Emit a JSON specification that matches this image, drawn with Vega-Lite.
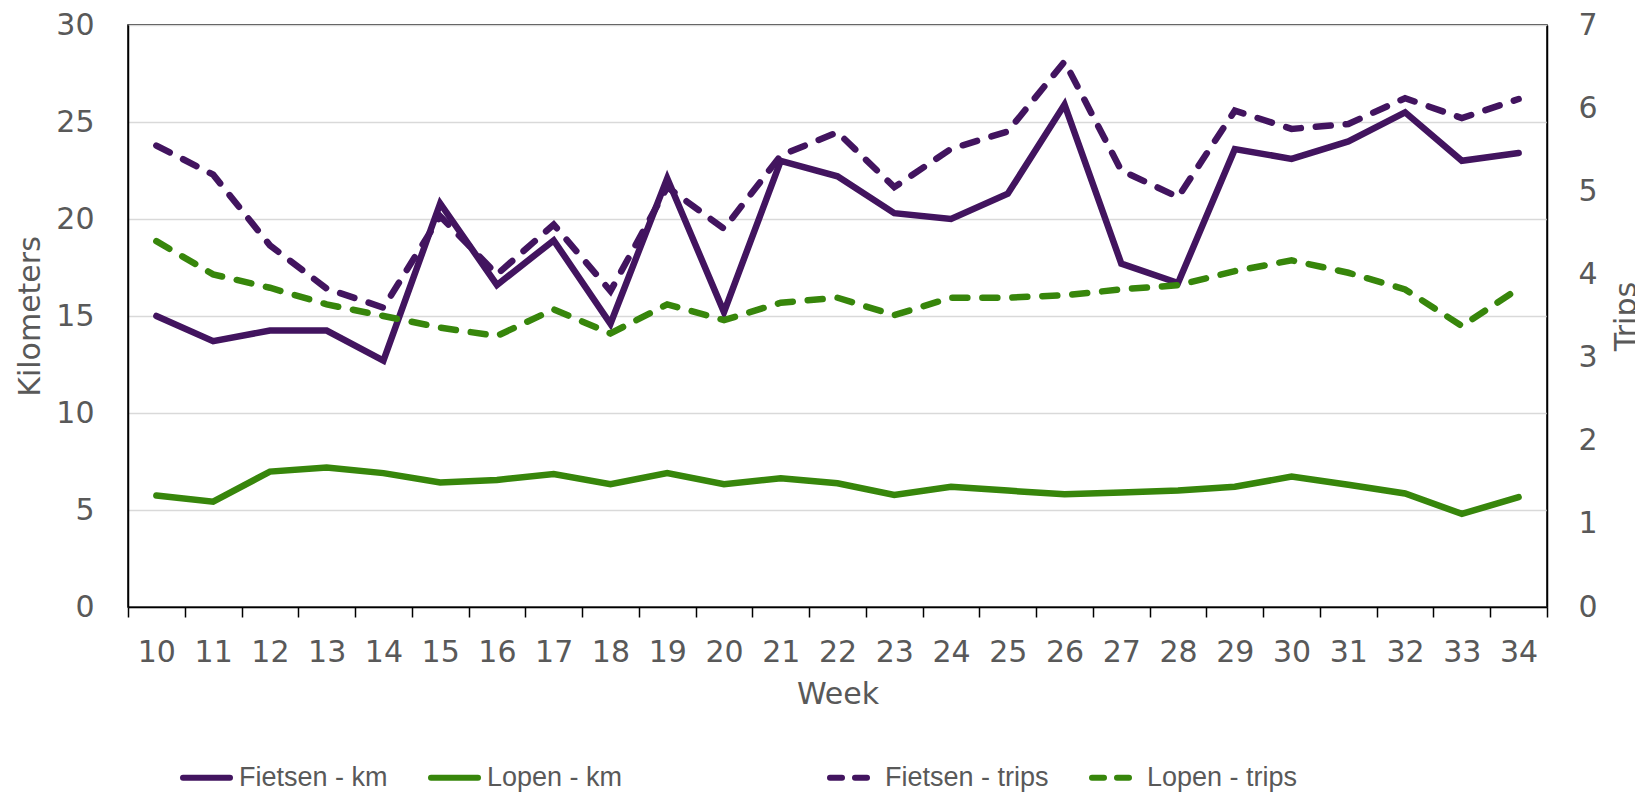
{
  "$schema": "https://vega.github.io/schema/vega-lite/v6.json",
  "width": 1419,
  "height": 582,
  "autosize": {"type": "none"},
  "padding": {"left": 128, "top": 25, "right": 88, "bottom": 186},
  "config": {
    "font": "DejaVu Sans",
    "view": {"stroke": "#000000", "strokeWidth": 1.5},
    "axis": {
      "labelColor": "#595959",
      "titleColor": "#595959",
      "labelFontSize": 30,
      "titleFontSize": 30,
      "titleFontWeight": "normal",
      "domainColor": "#000000",
      "domainWidth": 1.5,
      "gridColor": "#d9d9d9",
      "gridWidth": 1.5,
      "tickColor": "#000000",
      "tickWidth": 1.5
    }
  },
  "datasets": {
    "km": [
      {"week": 10, "series": "Fietsen - km", "value": 15.0},
      {"week": 11, "series": "Fietsen - km", "value": 13.7},
      {"week": 12, "series": "Fietsen - km", "value": 14.25},
      {"week": 13, "series": "Fietsen - km", "value": 14.25},
      {"week": 14, "series": "Fietsen - km", "value": 12.7},
      {"week": 15, "series": "Fietsen - km", "value": 20.8},
      {"week": 16, "series": "Fietsen - km", "value": 16.6},
      {"week": 17, "series": "Fietsen - km", "value": 18.9},
      {"week": 18, "series": "Fietsen - km", "value": 14.6},
      {"week": 19, "series": "Fietsen - km", "value": 22.1},
      {"week": 20, "series": "Fietsen - km", "value": 15.2},
      {"week": 21, "series": "Fietsen - km", "value": 23.0},
      {"week": 22, "series": "Fietsen - km", "value": 22.2},
      {"week": 23, "series": "Fietsen - km", "value": 20.3},
      {"week": 24, "series": "Fietsen - km", "value": 20.0},
      {"week": 25, "series": "Fietsen - km", "value": 21.3},
      {"week": 26, "series": "Fietsen - km", "value": 25.9},
      {"week": 27, "series": "Fietsen - km", "value": 17.7},
      {"week": 28, "series": "Fietsen - km", "value": 16.7},
      {"week": 29, "series": "Fietsen - km", "value": 23.6},
      {"week": 30, "series": "Fietsen - km", "value": 23.1},
      {"week": 31, "series": "Fietsen - km", "value": 24.0},
      {"week": 32, "series": "Fietsen - km", "value": 25.5},
      {"week": 33, "series": "Fietsen - km", "value": 23.0},
      {"week": 34, "series": "Fietsen - km", "value": 23.4},
      {"week": 10, "series": "Lopen - km", "value": 5.75},
      {"week": 11, "series": "Lopen - km", "value": 5.43},
      {"week": 12, "series": "Lopen - km", "value": 6.98},
      {"week": 13, "series": "Lopen - km", "value": 7.19},
      {"week": 14, "series": "Lopen - km", "value": 6.9},
      {"week": 15, "series": "Lopen - km", "value": 6.42},
      {"week": 16, "series": "Lopen - km", "value": 6.55},
      {"week": 17, "series": "Lopen - km", "value": 6.85},
      {"week": 18, "series": "Lopen - km", "value": 6.33},
      {"week": 19, "series": "Lopen - km", "value": 6.9},
      {"week": 20, "series": "Lopen - km", "value": 6.33},
      {"week": 21, "series": "Lopen - km", "value": 6.64},
      {"week": 22, "series": "Lopen - km", "value": 6.38},
      {"week": 23, "series": "Lopen - km", "value": 5.78},
      {"week": 24, "series": "Lopen - km", "value": 6.2},
      {"week": 25, "series": "Lopen - km", "value": 6.0},
      {"week": 26, "series": "Lopen - km", "value": 5.81},
      {"week": 27, "series": "Lopen - km", "value": 5.9},
      {"week": 28, "series": "Lopen - km", "value": 6.0},
      {"week": 29, "series": "Lopen - km", "value": 6.2},
      {"week": 30, "series": "Lopen - km", "value": 6.72},
      {"week": 31, "series": "Lopen - km", "value": 6.3},
      {"week": 32, "series": "Lopen - km", "value": 5.85},
      {"week": 33, "series": "Lopen - km", "value": 4.8},
      {"week": 34, "series": "Lopen - km", "value": 5.66}
    ],
    "trips": [
      {"week": 10, "series": "Fietsen - trips", "value": 5.55},
      {"week": 11, "series": "Fietsen - trips", "value": 5.2},
      {"week": 12, "series": "Fietsen - trips", "value": 4.35},
      {"week": 13, "series": "Fietsen - trips", "value": 3.83},
      {"week": 14, "series": "Fietsen - trips", "value": 3.6},
      {"week": 15, "series": "Fietsen - trips", "value": 4.7},
      {"week": 16, "series": "Fietsen - trips", "value": 4.0},
      {"week": 17, "series": "Fietsen - trips", "value": 4.6},
      {"week": 18, "series": "Fietsen - trips", "value": 3.8},
      {"week": 19, "series": "Fietsen - trips", "value": 5.05},
      {"week": 20, "series": "Fietsen - trips", "value": 4.55},
      {"week": 21, "series": "Fietsen - trips", "value": 5.43},
      {"week": 22, "series": "Fietsen - trips", "value": 5.71},
      {"week": 23, "series": "Fietsen - trips", "value": 5.05},
      {"week": 24, "series": "Fietsen - trips", "value": 5.51},
      {"week": 25, "series": "Fietsen - trips", "value": 5.72},
      {"week": 26, "series": "Fietsen - trips", "value": 6.56},
      {"week": 27, "series": "Fietsen - trips", "value": 5.25},
      {"week": 28, "series": "Fietsen - trips", "value": 4.93},
      {"week": 29, "series": "Fietsen - trips", "value": 5.97},
      {"week": 30, "series": "Fietsen - trips", "value": 5.75},
      {"week": 31, "series": "Fietsen - trips", "value": 5.81},
      {"week": 32, "series": "Fietsen - trips", "value": 6.12},
      {"week": 33, "series": "Fietsen - trips", "value": 5.88},
      {"week": 34, "series": "Fietsen - trips", "value": 6.11},
      {"week": 10, "series": "Lopen - trips", "value": 4.4},
      {"week": 11, "series": "Lopen - trips", "value": 4.0},
      {"week": 12, "series": "Lopen - trips", "value": 3.84},
      {"week": 13, "series": "Lopen - trips", "value": 3.64},
      {"week": 14, "series": "Lopen - trips", "value": 3.5},
      {"week": 15, "series": "Lopen - trips", "value": 3.36},
      {"week": 16, "series": "Lopen - trips", "value": 3.26},
      {"week": 17, "series": "Lopen - trips", "value": 3.58},
      {"week": 18, "series": "Lopen - trips", "value": 3.29},
      {"week": 19, "series": "Lopen - trips", "value": 3.64},
      {"week": 20, "series": "Lopen - trips", "value": 3.45},
      {"week": 21, "series": "Lopen - trips", "value": 3.66},
      {"week": 22, "series": "Lopen - trips", "value": 3.72},
      {"week": 23, "series": "Lopen - trips", "value": 3.51},
      {"week": 24, "series": "Lopen - trips", "value": 3.72},
      {"week": 25, "series": "Lopen - trips", "value": 3.72},
      {"week": 26, "series": "Lopen - trips", "value": 3.75},
      {"week": 27, "series": "Lopen - trips", "value": 3.82},
      {"week": 28, "series": "Lopen - trips", "value": 3.87},
      {"week": 29, "series": "Lopen - trips", "value": 4.04},
      {"week": 30, "series": "Lopen - trips", "value": 4.17},
      {"week": 31, "series": "Lopen - trips", "value": 4.02},
      {"week": 32, "series": "Lopen - trips", "value": 3.82},
      {"week": 33, "series": "Lopen - trips", "value": 3.38},
      {"week": 34, "series": "Lopen - trips", "value": 3.83}
    ]
  },
  "encoding": {
    "x": {
      "field": "week",
      "type": "ordinal",
      "bandPosition": 0.5,
      "scale": {"type": "band", "paddingInner": 0, "paddingOuter": 0},
      "axis": {
        "title": "Week",
        "labelAngle": 0,
        "tickBand": "extent",
        "tickSize": 10,
        "labelPadding": 20,
        "titlePadding": 12,
        "grid": false
      }
    }
  },
  "layer": [
    {
      "data": {"name": "km"},
      "mark": {"type": "line", "strokeWidth": 6.5, "strokeCap": "round"},
      "encoding": {
        "y": {
          "field": "value",
          "type": "quantitative",
          "scale": {"domain": [0, 30], "nice": false},
          "axis": {
            "title": "Kilometers",
            "orient": "left",
            "values": [0, 5, 10, 15, 20, 25, 30],
            "grid": true,
            "ticks": false,
            "tickSize": 0,
            "labelPadding": 34,
            "titlePadding": 10
          }
        },
        "color": {
          "field": "series",
          "type": "nominal",
          "scale": {"domain": ["Fietsen - km", "Lopen - km"], "range": ["#42145f", "#37860b"]},
          "legend": {
            "orient": "none",
            "direction": "horizontal",
            "legendX": 52,
            "legendY": 726,
            "title": null,
            "symbolType": "stroke",
            "symbolSize": 2209,
            "symbolStrokeWidth": 6,
            "labelFont": "Liberation Sans",
            "labelFontSize": 27,
            "labelColor": "#595959",
            "labelLimit": 400,
            "columnPadding": 31,
            "labelOffset": 6,
            "encode": {"symbols": {"update": {"strokeCap": {"value": "round"}}}}
          }
        }
      }
    },
    {
      "data": {"name": "trips"},
      "mark": {"type": "line", "strokeWidth": 6.5, "strokeCap": "round", "strokeDash": [15, 15]},
      "encoding": {
        "y": {
          "field": "value",
          "type": "quantitative",
          "scale": {"domain": [0, 7], "nice": false},
          "axis": {
            "title": "Trips",
            "orient": "right",
            "values": [0, 1, 2, 3, 4, 5, 6, 7],
            "grid": false,
            "ticks": false,
            "tickSize": 0,
            "labelPadding": 31,
            "titleAngle": 270,
            "titlePadding": 44
          }
        },
        "color": {
          "field": "series",
          "type": "nominal",
          "scale": {"domain": ["Fietsen - trips", "Lopen - trips"], "range": ["#42145f", "#37860b"]},
          "legend": {
            "orient": "none",
            "direction": "horizontal",
            "legendX": 699,
            "legendY": 731,
            "title": null,
            "symbolType": "stroke",
            "symbolSize": 1369,
            "symbolStrokeWidth": 6,
            "symbolDash": [12, 13],
            "labelFont": "Liberation Sans",
            "labelFontSize": 27,
            "labelColor": "#595959",
            "labelLimit": 400,
            "columnPadding": 31,
            "labelOffset": 15,
            "encode": {"symbols": {"update": {"strokeCap": {"value": "round"}}}}
          }
        }
      }
    }
  ],
  "resolve": {"scale": {"y": "independent", "color": "independent"}}
}
